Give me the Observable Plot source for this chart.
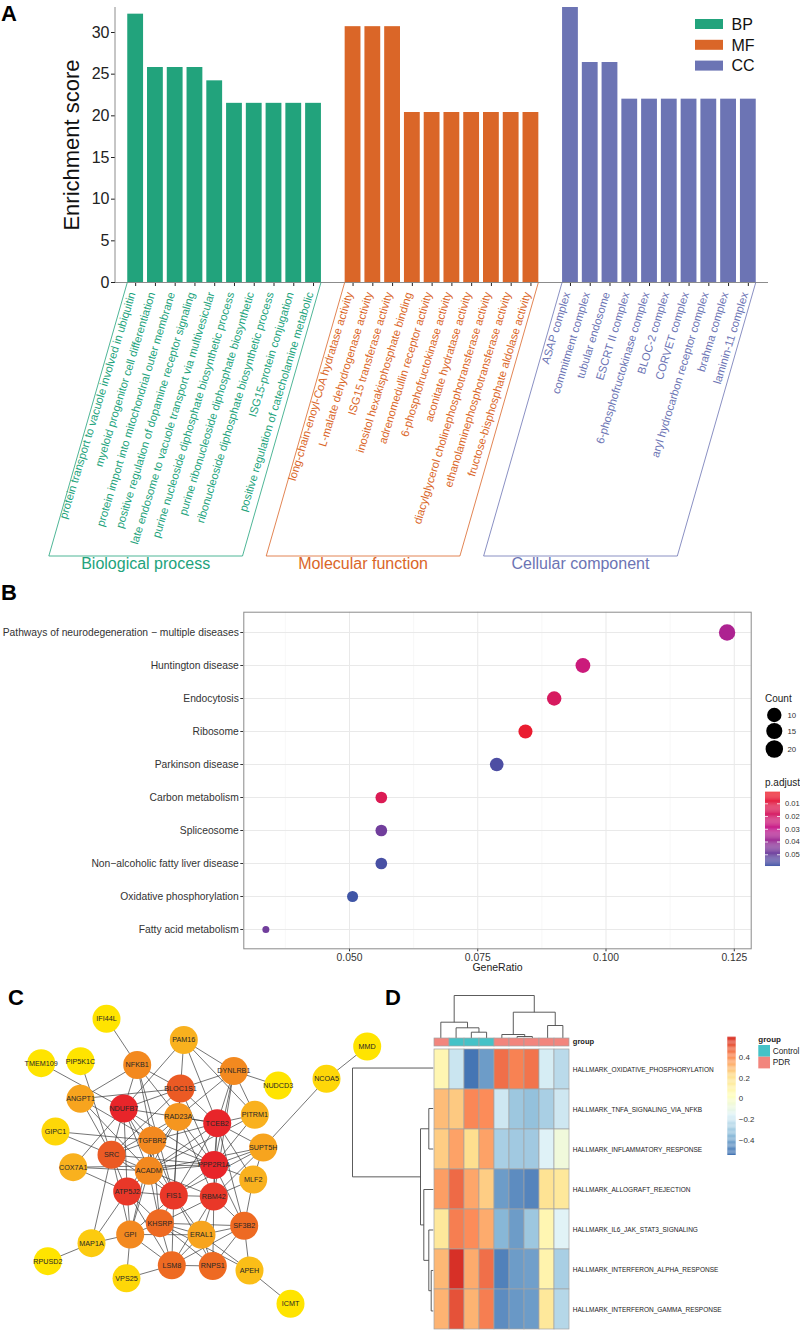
<!DOCTYPE html>
<html><head><meta charset="utf-8">
<script src="https://cdn.jsdelivr.net/npm/d3@7"></script>
<script src="https://cdn.jsdelivr.net/npm/@observablehq/plot@0.6"></script>
<style>
body{margin:0;background:#fff;}
#root{position:relative;width:800px;height:1332px;overflow:hidden;background:#fff;font-family:"Liberation Sans",Arial,Helvetica,sans-serif;}
</style></head><body><div id="root"></div>
<script>
// ---------------- DATA ----------------
// Panel A: GO enrichment
const goGroups = ["BP", "MF", "CC"];
const goGroupTitles = ["Biological process", "Molecular function", "Cellular component"];
const goColors = ["#22a37c", "#da6628", "#6c74b4"];
const bpTerms = ["protein transport to vacuole involved in ubiquitin","myeloid progenitor cell differentiation","protein import into mitochondrial outer membrane","positive regulation of dopamine receptor signaling","late endosome to vacuole transport via multivesicular","purine nucleoside diphosphate biosynthetic process","purine ribonucleoside diphosphate biosynthetic","ribonucleoside diphosphate biosynthetic process","ISG15-protein conjugation","positive regulation of catecholamine metabolic"];
const bpScores = [32.2, 25.8, 25.8, 25.8, 24.2, 21.5, 21.5, 21.5, 21.5, 21.5];
const mfTerms = ["long-chain-enoyl-CoA hydratase activity","L-malate dehydrogenase activity","ISG15 transferase activity","inositol hexakisphosphate binding","adrenomedullin receptor activity","6-phosphofructokinase activity","aconitate hydratase activity","diacylglycerol cholinephosphotransferase activity","ethanolaminephosphotransferase activity","fructose-bisphosphate aldolase activity"];
const mfScores = [30.7, 30.7, 30.7, 20.4, 20.4, 20.4, 20.4, 20.4, 20.4, 20.4];
const ccTerms = ["ASAP complex","commitment complex","tubular endosome","ESCRT II complex","6-phosphofructokinase complex","BLOC-2 complex","CORVET complex","aryl hydrocarbon receptor complex","brahma complex","laminin-11 complex"];
const ccScores = [33.0, 26.4, 26.4, 22.0, 22.0, 22.0, 22.0, 22.0, 22.0, 22.0];
const yTicksA = [0, 5, 10, 15, 20, 25, 30];

// Panel B: KEGG dot plot
const keggTerms = ["Pathways of neurodegeneration \u2212 multiple diseases","Huntington disease","Endocytosis","Ribosome","Parkinson disease","Carbon metabolism","Spliceosome","Non\u2212alcoholic fatty liver disease","Oxidative phosphorylation","Fatty acid metabolism"];
const keggRatio = [0.1236, 0.0955, 0.0899, 0.0843, 0.0787, 0.0562, 0.0562, 0.0562, 0.0506, 0.0337];
const keggCount = [22, 17, 16, 15, 14, 10, 10, 10, 9, 6];
const keggPadj = [0.035, 0.025, 0.017, 0.004, 0.056, 0.014, 0.048, 0.057, 0.059, 0.048];
const ratioTicks = [0.05, 0.075, 0.1, 0.125];
const ratioMinor = [0.0375, 0.0625, 0.0875, 0.1125];
const countLegend = [10, 15, 20];
const padjTicks = [0.01, 0.02, 0.03, 0.04, 0.05];

// Panel C: PPI network (layout coordinates and degree-like score)
const nodeNames = ["IFI44L","PAM16","MMD","TMEM109","PIP5K1C","NFKB1","DYNLRB1","NCOA5","NUDCD3","BLOC1S1","ANGPT1","NDUFB7","PITRM1","TCEB2","RAD23A","GIPC1","TGFBR2","SUPT5H","SRC","PPP2R1A","COX7A1","ACADM","MLF2","ATP5J2","FIS1","RBM42","KHSRP","SF3B2","ERAL1","GPI","MAP1A","RPUSD2","LSM8","RNPS1","APEH","VPS25","ICMT"];
const nodeX = [106,183.3,366.7,40.7,80,136.7,233.3,326,277.7,180,80,123.3,254.3,216.7,177.7,55,151.7,262.7,111,213.7,72.7,148.3,252.7,126.7,173.3,213.3,159.3,243.7,201,129.7,91,47.3,171.3,212.3,249,126,290];
const nodeY = [28.3,49.5,56,72.7,70.7,74.5,80.5,88.3,95,98,108.3,118,124.3,132.7,126.4,141,150,157,164.3,174.5,176.7,180.3,189,201,205,206,232.7,235.3,244.3,244,252.7,270.7,274.8,275.5,280,287.8,313.3];
const nodeScore = [1,5,1,1,1,8,8,2,1,11,6,14,5,14,7,2,8,6,11,14,5,8,5,13,13,13,10,10,6,8,3,1,10,10,4,2,1];
const edgePairs = [["IFI44L","NFKB1"],["TMEM109","NDUFB7"],["PIP5K1C","SRC"],["ANGPT1","NFKB1"],["ANGPT1","BLOC1S1"],["ANGPT1","TGFBR2"],["ANGPT1","SRC"],["ANGPT1","ACADM"],["GIPC1","TGFBR2"],["GIPC1","SRC"],["COX7A1","ACADM"],["COX7A1","ATP5J2"],["COX7A1","NDUFB7"],["COX7A1","PPP2R1A"],["NFKB1","NDUFB7"],["NFKB1","BLOC1S1"],["NFKB1","TGFBR2"],["NFKB1","RAD23A"],["NFKB1","FIS1"],["NDUFB7","PAM16"],["PAM16","BLOC1S1"],["PAM16","DYNLRB1"],["PAM16","TCEB2"],["PAM16","PITRM1"],["DYNLRB1","NUDCD3"],["DYNLRB1","BLOC1S1"],["DYNLRB1","TCEB2"],["DYNLRB1","PITRM1"],["DYNLRB1","RAD23A"],["DYNLRB1","PPP2R1A"],["DYNLRB1","RBM42"],["BLOC1S1","NDUFB7"],["BLOC1S1","TCEB2"],["BLOC1S1","RAD23A"],["BLOC1S1","FIS1"],["BLOC1S1","SRC"],["BLOC1S1","PPP2R1A"],["NDUFB7","TCEB2"],["NDUFB7","SRC"],["NDUFB7","ATP5J2"],["NDUFB7","TGFBR2"],["NDUFB7","FIS1"],["NDUFB7","ACADM"],["NDUFB7","PPP2R1A"],["TCEB2","PITRM1"],["TCEB2","SUPT5H"],["TCEB2","RAD23A"],["TCEB2","PPP2R1A"],["TCEB2","RBM42"],["TCEB2","ACADM"],["TCEB2","FIS1"],["TCEB2","SF3B2"],["TCEB2","MLF2"],["TCEB2","TGFBR2"],["PITRM1","PPP2R1A"],["PITRM1","ACADM"],["SUPT5H","NCOA5"],["SUPT5H","PPP2R1A"],["SUPT5H","RBM42"],["SUPT5H","MLF2"],["SUPT5H","FIS1"],["NCOA5","MMD"],["RAD23A","TGFBR2"],["RAD23A","ACADM"],["RAD23A","FIS1"],["RAD23A","PPP2R1A"],["RAD23A","RBM42"],["RAD23A","ATP5J2"],["RAD23A","SRC"],["TGFBR2","SRC"],["TGFBR2","ACADM"],["TGFBR2","PPP2R1A"],["TGFBR2","FIS1"],["TGFBR2","GPI"],["TGFBR2","KHSRP"],["SRC","ATP5J2"],["SRC","ACADM"],["SRC","FIS1"],["SRC","GPI"],["SRC","MAP1A"],["SRC","PPP2R1A"],["ACADM","FIS1"],["ACADM","ATP5J2"],["ACADM","PPP2R1A"],["ACADM","GPI"],["ACADM","RBM42"],["ACADM","KHSRP"],["ACADM","SUPT5H"],["ATP5J2","FIS1"],["ATP5J2","GPI"],["ATP5J2","KHSRP"],["ATP5J2","LSM8"],["ATP5J2","MAP1A"],["FIS1","RBM42"],["FIS1","PPP2R1A"],["FIS1","GPI"],["FIS1","KHSRP"],["FIS1","ERAL1"],["FIS1","LSM8"],["FIS1","RNPS1"],["PPP2R1A","RBM42"],["PPP2R1A","MLF2"],["PPP2R1A","SF3B2"],["RBM42","MLF2"],["RBM42","SF3B2"],["RBM42","ERAL1"],["RBM42","RNPS1"],["RBM42","KHSRP"],["RBM42","LSM8"],["MLF2","SF3B2"],["SF3B2","ERAL1"],["SF3B2","RNPS1"],["SF3B2","LSM8"],["SF3B2","APEH"],["SF3B2","KHSRP"],["KHSRP","GPI"],["KHSRP","LSM8"],["KHSRP","ERAL1"],["KHSRP","RNPS1"],["KHSRP","APEH"],["GPI","MAP1A"],["GPI","VPS25"],["GPI","LSM8"],["GPI","ERAL1"],["MAP1A","RPUSD2"],["LSM8","VPS25"],["LSM8","RNPS1"],["LSM8","ERAL1"],["ERAL1","APEH"],["ERAL1","RNPS1"],["APEH","ICMT"]];
const nodeScoreStops = [1, 5, 8, 11, 14];
const nodeColors = ["#ffe400", "#f9b11e", "#f3891f", "#eb5a24", "#e8252a"];

// Panel D: GSVA heatmap
const hmPathways = ["HALLMARK_OXIDATIVE_PHOSPHORYLATION","HALLMARK_TNFA_SIGNALING_VIA_NFKB","HALLMARK_INFLAMMATORY_RESPONSE","HALLMARK_ALLOGRAFT_REJECTION","HALLMARK_IL6_JAK_STAT3_SIGNALING","HALLMARK_INTERFERON_ALPHA_RESPONSE","HALLMARK_INTERFERON_GAMMA_RESPONSE"];
const hmSamples = ["s1","s2","s3","s4","s5","s6","s7","s8","s9"];
const hmGroup = ["PDR","Control","Control","Control","PDR","PDR","PDR","PDR","PDR"];
const hmValues = [
  [0.08,-0.22,-0.55,-0.45,0.47,0.43,0.46,-0.19,-0.26],
  [0.30,0.27,0.42,0.41,-0.21,-0.33,-0.35,-0.30,-0.21],
  [0.26,0.36,0.22,0.36,-0.30,-0.32,-0.32,-0.17,-0.07],
  [0.37,0.48,0.35,0.26,-0.45,-0.49,-0.51,0.20,0.17],
  [0.17,0.44,0.41,0.34,-0.38,-0.45,-0.33,0.08,-0.16],
  [0.31,0.60,0.34,0.47,-0.52,-0.45,-0.44,0.10,-0.30],
  [0.32,0.53,0.32,0.44,-0.49,-0.46,-0.45,0.17,-0.27]
];
const hmGroupNames = ["Control", "PDR"];
const hmGroupColors = ["#45c2c7", "#f2857d"];
const hmPalette = ["#4575b4","#91bfdb","#e0f3f8","#ffffbf","#fee090","#fc8d59","#d73027"];
const hmTicks = [-0.4, -0.2, 0, 0.2, 0.4];
// dendrogram merges: [childA, childB, height]; leaves 0..n-1, merge k gets id n+k
const colMerges = [[2,3,5.6],[1,9,10],[0,10,15.6],[5,6,1.3],[4,12,3.3],[7,8,12.3],[13,14,25.6],[11,15,42.3]];
const rowMerges = [[5,6,2],[1,2,4.4],[4,7,4.4],[3,9,9.4],[8,10,12.7],[0,11,80.7]];

// ---------------- HELPERS ----------------
const FONT = '"Liberation Sans", Arial, Helvetica, sans-serif';
const root = document.getElementById("root");
function place(el, top, left = 0) {
  el.style.position = "absolute"; el.style.top = top + "px"; el.style.left = left + "px";
  el.style.maxWidth = "none";
  root.appendChild(el); return el;
}
const st = (fs, color = "#222") => ({background: "transparent", overflow: "visible", fontFamily: FONT, fontSize: fs + "px", color});
function scaleFn(desc) {
  if (desc.apply) return v => desc.apply(v);
  return null;
}
function dendroSegments(merges, n) {
  const pos = [], ht = [], segs = [];
  for (let i = 0; i < n; i++) { pos[i] = i; ht[i] = 0; }
  merges.forEach(([a, b, h], k) => {
    const id = n + k;
    pos[id] = (pos[a] + pos[b]) / 2; ht[id] = h;
    segs.push({p1: pos[a], h1: ht[a], p2: pos[a], h2: h});
    segs.push({p1: pos[b], h1: ht[b], p2: pos[b], h2: h});
    segs.push({p1: pos[a], h1: h, p2: pos[b], h2: h});
  });
  return segs;
}

// ---------------- PANEL A ----------------
const groupTerms = [bpTerms, mfTerms, ccTerms];
const groupScores = [bpScores, mfScores, ccScores];
const rowsA = goGroups.flatMap((g, gi) => groupTerms[gi].map((t, i) => ({term: t, score: groupScores[gi][i], group: g})));
const xDomainA = [...bpTerms, " ", ...mfTerms, "  ", ...ccTerms];
const plotA = Plot.plot({
  width: 800, height: 580, marginTop: 7, marginBottom: 298, marginLeft: 115, marginRight: 32,
  style: st(16, "#222"),
  x: {type: "band", domain: xDomainA, paddingInner: 0.2, paddingOuter: 0.62, round: false, ticks: rowsA.map(d => d.term), tickFormat: () => "", tickSize: 4, label: null},
  y: {domain: [0, 33], ticks: yTicksA, tickSize: 4, tickPadding: 2, label: null},
  color: {domain: goGroups, range: goColors},
  marks: [
    Plot.barY(rowsA, {x: "term", y: "score", fill: "group"}),
    Plot.ruleY([0], {stroke: "#8c8c8c", strokeWidth: 1}),
    Plot.text(rowsA, {x: "term", frameAnchor: "bottom", text: "term", fill: "group", rotate: -73, textAnchor: "end", dy: 11, dx: 0, fontSize: 11.2}),
    Plot.text(["Enrichment score"], {frameAnchor: "left", text: d => d, rotate: -90, textAnchor: "middle", dx: -44, fontSize: 22, fill: "#111"})
  ]
});
place(plotA, 0);
{
  const sx = plotA.scale("x"), sy = plotA.scale("y");
  const fx = scaleFn(sx) || (() => { const s = d3.scaleBand(sx.domain, sx.range).paddingInner(sx.paddingInner).paddingOuter(sx.paddingOuter).align(sx.align ?? 0.5); return v => s(v); })();
  const fy = scaleFn(sy) || (() => { const s = d3.scaleLinear(sy.domain, sy.range); return v => s(v); })();
  const bw = sx.bandwidth;
  const svg = d3.select(plotA);
  // y axis line
  svg.append("line").attr("x1", 115).attr("x2", 115).attr("y1", fy(0)).attr("y2", fy(33)).attr("stroke", "#8c8c8c");
  const top = fy(0) + 0.5, bottom = 556;
  const off = (bottom - top) / Math.tan(74 * Math.PI / 180);
  goGroups.forEach((g, gi) => {
    const terms = groupTerms[gi];
    const l = fx(terms[0]), r = fx(terms[terms.length - 1]) + bw;
    svg.append("path").attr("d", `M${l},${top}L${l - off},${bottom}L${r - off},${bottom}L${r},${top}`)
      .attr("fill", "none").attr("stroke", goColors[gi]).attr("stroke-width", 0.8);
    svg.append("text").attr("x", (l + r) / 2 - off).attr("y", bottom + 7).attr("dy", "0.35em")
      .attr("text-anchor", "middle").attr("fill", goColors[gi]).attr("font-size", 16).attr("font-family", FONT)
      .text(goGroupTitles[gi]);
  });
}

// ---------------- PANEL B ----------------
const rowsB = keggTerms.map((t, i) => ({term: t, ratio: keggRatio[i], count: keggCount[i], padj: keggPadj[i]}));
const minCount = d3.min(keggCount), maxCount = d3.max(keggCount);
const rOpts = {type: "sqrt", transform: d => d - minCount, domain: [0, maxCount - minCount], range: [3.5, 8.2]};
const padjDomain = [0.0009, 0.03, 0.0592];
const padjColors = ["#ee1c25", "#c4198d", "#3e55a6"];
const plotB = Plot.plot({
  width: 800, height: 390, marginTop: 21.7, marginBottom: 31.7, marginLeft: 243.3, marginRight: 49.3,
  style: st(10.3, "#333"),
  x: {domain: [0.0294, 0.1283], ticks: ratioTicks, tickFormat: ".3f", tickSize: 3, tickPadding: 1.5, label: null},
  y: {type: "point", domain: keggTerms, padding: 0.6, tickSize: 3, tickPadding: 2, label: null},
  r: rOpts,
  color: {type: "linear", domain: padjDomain, range: padjColors},
  marks: [
    Plot.ruleX(ratioMinor, {stroke: "#f2f2f2", strokeWidth: 0.6}),
    Plot.ruleX(ratioTicks, {stroke: "#e9e9e9", strokeWidth: 1}),
    Plot.ruleY(keggTerms, {stroke: "#e9e9e9", strokeWidth: 1}),
    Plot.frame({stroke: "#8a8a8a"}),
    Plot.dot(rowsB, {x: "ratio", y: "term", r: "count", fill: "padj"}),
    Plot.text(["GeneRatio"], {frameAnchor: "bottom", text: d => d, dy: 22.5, fontSize: 10.5, fill: "#222"})
  ]
});
place(plotB, 590);
{
  const svg = d3.select(plotB);
  const rs = plotB.scale("r");
  const rf = scaleFn(rs) || (v => 3.5 + Math.sqrt((v - minCount) / (maxCount - minCount)) * 4.7);
  const ys = [715, 731, 749].map(v => v - 590);
  const g = svg.append("g").attr("text-anchor", "start").attr("font-family", FONT);
  g.append("text").attr("x", 765).attr("y", 698 - 590).attr("dy", "0.35em").attr("font-size", 10).attr("fill", "#222").text("Count");
  countLegend.forEach((c, i) => {
    g.append("circle").attr("cx", 774.3).attr("cy", ys[i]).attr("r", rf(c)).attr("fill", "#000");
    g.append("text").attr("x", 787.5).attr("y", ys[i]).attr("dy", "0.35em").attr("font-size", 7.8).attr("fill", "#333").text(c);
  });
  g.append("text").attr("x", 765).attr("y", 782 - 590).attr("dy", "0.35em").attr("font-size", 10).attr("fill", "#222").text("p.adjust");
}
// p.adjust colour bar
{
  const lo = padjDomain[0], hi = padjDomain[padjDomain.length - 1], n = 80, dv = (hi - lo) / n;
  const ramp = d3.range(n).map(i => lo + i * dv);
  const cb = Plot.plot({
    width: 800, height: 390, marginTop: 201.7, marginBottom: 114, marginLeft: 765, marginRight: 20,
    style: st(7.6, "#333"),
    x: {domain: [0, 1], axis: null},
    y: {domain: [lo, hi], reverse: true, ticks: padjTicks, tickFormat: ".2f", axis: "right", tickSize: 0, tickPadding: 4.5, label: null},
    color: {type: "linear", domain: padjDomain, range: padjColors},
    marks: [
      Plot.rect(ramp, {x1: () => 0, x2: () => 1, y1: d => d, y2: d => d + dv * 1.02, fill: d => d}),
      Plot.ruleY(padjTicks, {x1: () => 0, x2: () => 0.2, stroke: "white", strokeWidth: 0.8}),
      Plot.ruleY(padjTicks, {x1: () => 0.8, x2: () => 1, stroke: "white", strokeWidth: 0.8})
    ]
  });
  place(cb, 590);
}

// ---------------- PANEL C ----------------
const nodesC = nodeNames.map((n, i) => ({name: n, x: nodeX[i], y: nodeY[i], score: nodeScore[i]}));
const nodeIndex = new Map(nodesC.map(d => [d.name, d]));
const plotC = Plot.plot({
  width: 400, height: 342, margin: 0,
  style: st(7.2, "#222"),
  x: {domain: [0, 400], axis: null},
  y: {domain: [0, 342], reverse: true, axis: null},
  color: {type: "linear", domain: nodeScoreStops, range: nodeColors},
  marks: [
    Plot.link(edgePairs, {x1: d => nodeIndex.get(d[0]).x, y1: d => nodeIndex.get(d[0]).y, x2: d => nodeIndex.get(d[1]).x, y2: d => nodeIndex.get(d[1]).y, stroke: "#3a3a3a", strokeWidth: 0.7}),
    Plot.dot(nodesC, {x: "x", y: "y", r: 14, fill: "score"}),
    Plot.text(nodesC, {x: "x", y: "y", text: "name", fontSize: 7.2, fill: "#262626"})
  ]
});
place(plotC, 990);

// ---------------- PANEL D ----------------
const hmRows = hmPathways.flatMap((p, r) => hmSamples.map((s, c) => ({pathway: p, sample: s, value: hmValues[r][c]})));
const [hmMin, hmMax] = d3.extent(hmRows, d => d.value);
const hmBreaks = hmPalette.map((_, i) => hmMin + i * (hmMax - hmMin) / (hmPalette.length - 1));
const hmColor = {type: "linear", domain: hmBreaks, range: hmPalette};
const DTOP = 990;
const hmLeft = 432.7, hmRightMargin = 230;
const heat = Plot.plot({
  width: 800, height: 342, marginTop: 57.3, marginBottom: 1.3, marginLeft: hmLeft, marginRight: hmRightMargin,
  style: st(6.5, "#222"),
  x: {domain: hmSamples, padding: 0, axis: null},
  y: {domain: hmPathways, padding: 0, axis: "right", tickSize: 0, tickPadding: 2.3, label: null},
  color: hmColor,
  marks: [
    Plot.cell(hmRows, {x: "sample", y: "pathway", fill: "value", stroke: "#a3a3a3", strokeWidth: 0.7, inset: 0})
  ]
});
place(heat, DTOP);
const annRows = hmSamples.map((s, i) => ({sample: s, group: hmGroup[i]}));
const ann = Plot.plot({
  width: 800, height: 56, marginTop: 47.3, marginBottom: 0.3, marginLeft: hmLeft, marginRight: hmRightMargin,
  style: st(7.5, "#222"),
  x: {domain: hmSamples, padding: 0, axis: null},
  y: {domain: ["group"], padding: 0, axis: null},
  color: {domain: hmGroupNames, range: hmGroupColors},
  marks: [
    Plot.cell(annRows, {x: "sample", y: () => "group", fill: "group", stroke: "#a3a3a3", strokeWidth: 0.7, inset: 0}),
    Plot.text(["group"], {frameAnchor: "right", text: d => d, dx: 2.3, textAnchor: "start", fontWeight: "bold", fontSize: 7.5, fill: "#222"})
  ]
});
place(ann, DTOP);
// column dendrogram
const colSegs = dendroSegments(colMerges, hmSamples.length);
const colDen = Plot.plot({
  width: 800, height: 50, marginTop: 5, marginBottom: 2.7, marginLeft: hmLeft, marginRight: hmRightMargin,
  style: st(8),
  x: {domain: [-0.5, hmSamples.length - 0.5], axis: null},
  y: {domain: [0, d3.max(colMerges, d => d[2])], axis: null},
  marks: [Plot.link(colSegs, {x1: "p1", y1: "h1", x2: "p2", y2: "h2", stroke: "#4a4a4a", strokeWidth: 0.9})]
});
place(colDen, DTOP);
// row dendrogram
const rowSegs = dendroSegments(rowMerges, hmPathways.length);
const rowDen = Plot.plot({
  width: 800, height: 342, marginTop: 57.3, marginBottom: 1.3, marginLeft: 352, marginRight: 800 - hmLeft,
  style: st(8),
  x: {domain: [0, d3.max(rowMerges, d => d[2])], reverse: true, axis: null},
  y: {domain: [-0.5, hmPathways.length - 0.5], reverse: true, axis: null},
  marks: [Plot.link(rowSegs, {x1: "h1", y1: "p1", x2: "h2", y2: "p2", stroke: "#4a4a4a", strokeWidth: 0.9})]
});
place(rowDen, DTOP);
// heatmap colour bar
{
  const n = 100, dv = (hmMax - hmMin) / n;
  const ramp = d3.range(n).map(i => hmMin + i * dv);
  const cb = Plot.plot({
    width: 800, height: 342, marginTop: 1036.7 - DTOP, marginBottom: DTOP + 342 - 1155, marginLeft: 727.3, marginRight: 800 - 735.7,
    style: st(7.9, "#333"),
    x: {domain: [0, 1], axis: null},
    y: {domain: [hmMin, hmMax], ticks: hmTicks, tickFormat: d3.format(".1~f"), axis: "right", tickSize: 0, tickPadding: 2.6, label: null},
    color: hmColor,
    marks: [Plot.rect(ramp, {x1: () => 0, x2: () => 1, y1: d => d, y2: d => d + dv * 1.02, fill: d => d})]
  });
  place(cb, DTOP);
}

// ---------------- OVERLAY: panel letters and legends ----------------
const ov = d3.create("svg").attr("width", 800).attr("height", 1332)
  .style("position", "absolute").style("top", "0px").style("left", "0px")
  .style("font-family", FONT).style("pointer-events", "none").style("overflow", "visible");
[["A", 1, 20.5], ["B", 1, 600], ["C", 8, 1005], ["D", 385, 1005]].forEach(([t, x, y]) => {
  ov.append("text").attr("x", x).attr("y", y).attr("font-size", 22).attr("font-weight", "bold").attr("fill", "#000").text(t);
});
// GO legend
goGroups.forEach((g, i) => {
  const cy = 24 + i * 20.8;
  ov.append("rect").attr("x", 695).attr("y", cy - 5).attr("width", 28).attr("height", 10).attr("fill", goColors[i]);
  ov.append("text").attr("x", 731.5).attr("y", cy).attr("dy", "0.36em").attr("font-size", 16).attr("fill", "#111").text(g);
});
// heatmap group legend
ov.append("text").attr("x", 758.3).attr("y", 1041.8).attr("font-size", 8).attr("font-weight", "bold").attr("fill", "#222").text("group");
hmGroupNames.forEach((g, i) => {
  const y0 = 1045 + i * 11.7;
  ov.append("rect").attr("x", 758.3).attr("y", y0).attr("width", 11.7).attr("height", 11.7).attr("fill", hmGroupColors[i]);
  ov.append("text").attr("x", 772.7).attr("y", y0 + 5.85).attr("dy", "0.35em").attr("font-size", 8.3).attr("fill", "#222").text(g);
});
root.appendChild(ov.node());
</script></body></html>
